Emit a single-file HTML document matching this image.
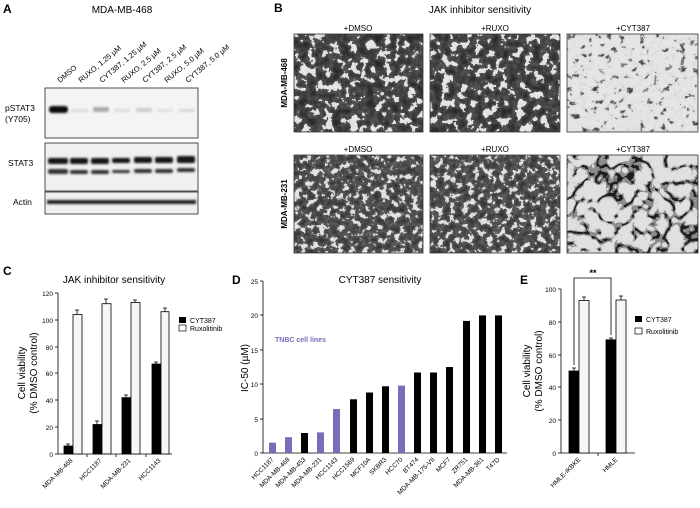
<!DOCTYPE html>
<html><head><meta charset="utf-8"><style>
html,body{margin:0;padding:0;background:#fff;}
svg{display:block;font-family:"Liberation Sans",Arial,sans-serif;}
</style></head><body>
<svg width="700" height="508" viewBox="0 0 700 508" xmlns="http://www.w3.org/2000/svg">
<defs>
<filter id="dark1" x="0" y="0" width="100%" height="100%" color-interpolation-filters="sRGB">
<feTurbulence type="fractalNoise" baseFrequency="0.12" numOctaves="3" seed="3"/>
<feColorMatrix type="matrix" values="1 0 0 0 0 1 0 0 0 0 1 0 0 0 0 0 0 0 0 1"/>
<feComponentTransfer><feFuncR type="discrete" tableValues="0.12 0.15 0.18 0.22 0.26 0.32 0.88 0.9 0.92 0.92"/><feFuncG type="discrete" tableValues="0.12 0.15 0.18 0.22 0.26 0.32 0.88 0.9 0.92 0.92"/><feFuncB type="discrete" tableValues="0.12 0.15 0.18 0.22 0.26 0.32 0.88 0.9 0.92 0.92"/></feComponentTransfer>
</filter>
<filter id="dark2" x="0" y="0" width="100%" height="100%" color-interpolation-filters="sRGB">
<feTurbulence type="fractalNoise" baseFrequency="0.16" numOctaves="3" seed="7"/>
<feColorMatrix type="matrix" values="1 0 0 0 0 1 0 0 0 0 1 0 0 0 0 0 0 0 0 1"/>
<feComponentTransfer><feFuncR type="discrete" tableValues="0.15 0.18 0.22 0.26 0.3 0.36 0.85 0.9 0.9 0.9"/><feFuncG type="discrete" tableValues="0.15 0.18 0.22 0.26 0.3 0.36 0.85 0.9 0.9 0.9"/><feFuncB type="discrete" tableValues="0.15 0.18 0.22 0.26 0.3 0.36 0.85 0.9 0.9 0.9"/></feComponentTransfer>
</filter>
<filter id="light1" x="0" y="0" width="100%" height="100%" color-interpolation-filters="sRGB">
<feTurbulence type="fractalNoise" baseFrequency="0.15" numOctaves="3" seed="11"/>
<feColorMatrix type="matrix" values="1 0 0 0 0 1 0 0 0 0 1 0 0 0 0 0 0 0 0 1"/>
<feComponentTransfer><feFuncR type="discrete" tableValues="0.2 0.25 0.3 0.5 0.86 0.88 0.9 0.9 0.9 0.9 0.9 0.9"/><feFuncG type="discrete" tableValues="0.2 0.25 0.3 0.5 0.86 0.88 0.9 0.9 0.9 0.9 0.9 0.9"/><feFuncB type="discrete" tableValues="0.2 0.25 0.3 0.5 0.86 0.88 0.9 0.9 0.9 0.9 0.9 0.9"/></feComponentTransfer>
</filter>
<filter id="light2" x="0" y="0" width="100%" height="100%" color-interpolation-filters="sRGB">
<feTurbulence type="turbulence" baseFrequency="0.06" numOctaves="2" seed="5"/>
<feColorMatrix type="matrix" values="1 0 0 0 0 1 0 0 0 0 1 0 0 0 0 0 0 0 0 1"/>
<feComponentTransfer><feFuncR type="discrete" tableValues="0.12 0.55 0.86 0.88 0.88 0.88 0.88 0.88 0.88 0.88"/><feFuncG type="discrete" tableValues="0.12 0.55 0.86 0.88 0.88 0.88 0.88 0.88 0.88 0.88"/><feFuncB type="discrete" tableValues="0.12 0.55 0.86 0.88 0.88 0.88 0.88 0.88 0.88 0.88"/></feComponentTransfer>
</filter>
<filter id="blur"><feGaussianBlur stdDeviation="1"/></filter>
</defs>

<!-- Panel A -->
<text x="3" y="13" font-size="12" font-weight="bold">A</text>
<text x="122" y="13" font-size="10" text-anchor="middle">MDA-MB-468</text>
<g font-size="7.5">
<text transform="translate(60,83) rotate(-40)">DMSO</text>
<text transform="translate(81,83) rotate(-40)">RUXO, 1.25 µM</text>
<text transform="translate(102,83) rotate(-40)">CYT387, 1.25 µM</text>
<text transform="translate(124,83) rotate(-40)">RUXO, 2.5 µM</text>
<text transform="translate(145,83) rotate(-40)">CYT387, 2.5 µM</text>
<text transform="translate(167,83) rotate(-40)">RUXO, 5.0 µM</text>
<text transform="translate(188,83) rotate(-40)">CYT387, 5.0 µM</text>
</g>
<rect x="45" y="88" width="153" height="50" fill="#f4f4f4" stroke="#222" stroke-width="0.8"/>
<rect x="45" y="143" width="153" height="48" fill="#f0f0f0" stroke="#222" stroke-width="0.8"/>
<rect x="45" y="192" width="153" height="22" fill="#f0f0f0" stroke="#222" stroke-width="0.8"/>
<g filter="url(#blur)">
<rect x="49" y="106" width="19" height="7" rx="3" fill="#111"/>
<rect x="71" y="109" width="17" height="3" fill="#ddd"/>
<rect x="93" y="107" width="16" height="5" rx="2" fill="#aaa"/>
<rect x="114" y="109" width="16" height="3" fill="#ddd"/>
<rect x="136" y="108" width="16" height="4" fill="#ccc"/>
<rect x="157" y="109" width="16" height="3" fill="#e0e0e0"/>
<rect x="179" y="109" width="16" height="3" fill="#d6d6d6"/>
<g fill="#151515">
<rect x="48" y="158" width="20" height="6" rx="2"/><rect x="70" y="158" width="18" height="6" rx="2"/><rect x="91" y="158" width="18" height="6" rx="2"/><rect x="112" y="158" width="18" height="5" rx="2"/><rect x="134" y="157" width="18" height="6" rx="2"/><rect x="155" y="157" width="18" height="6" rx="2"/><rect x="177" y="156" width="18" height="7" rx="2"/>
</g>
<g fill="#333">
<rect x="48" y="169" width="20" height="5" rx="2"/><rect x="70" y="170" width="18" height="4" rx="2"/><rect x="91" y="170" width="18" height="4" rx="2"/><rect x="112" y="170" width="18" height="3" rx="2"/><rect x="134" y="169" width="18" height="4" rx="2"/><rect x="155" y="169" width="18" height="4" rx="2"/><rect x="177" y="168" width="18" height="4" rx="2"/>
</g>
<rect x="47" y="200" width="149" height="4" fill="#222"/>
</g>
<g font-size="8.5">
<text x="5" y="111">pSTAT3</text>
<text x="5" y="122">(Y705)</text>
<text x="8" y="166">STAT3</text>
<text x="13" y="205">Actin</text>
</g>

<!-- Panel B -->
<text x="274" y="12" font-size="12" font-weight="bold">B</text>
<text x="480" y="13" font-size="10" text-anchor="middle">JAK inhibitor sensitivity</text>
<g font-size="8" text-anchor="middle">
<text x="358" y="31">+DMSO</text><text x="495" y="31">+RUXO</text><text x="633" y="31">+CYT387</text>
<text x="358" y="152">+DMSO</text><text x="495" y="152">+RUXO</text><text x="633" y="152">+CYT387</text>
<text transform="translate(287,83) rotate(-90)" font-weight="bold">MDA-MB-468</text>
<text transform="translate(287,204) rotate(-90)" font-weight="bold">MDA-MB-231</text>
</g>
<rect x="294" y="34" width="129" height="98" filter="url(#dark1)"/>
<rect x="430" y="34" width="130" height="98" filter="url(#dark1)"/>
<rect x="567" y="34" width="131" height="98" filter="url(#light1)"/>
<rect x="294" y="155" width="129" height="98" filter="url(#dark2)"/>
<rect x="430" y="155" width="130" height="98" filter="url(#dark2)"/>
<rect x="567" y="155" width="131" height="98" filter="url(#light2)"/>
<g fill="none" stroke="#333" stroke-width="0.8">
<rect x="294" y="34" width="129" height="98"/><rect x="430" y="34" width="130" height="98"/><rect x="567" y="34" width="131" height="98"/>
<rect x="294" y="155" width="129" height="98"/><rect x="430" y="155" width="130" height="98"/><rect x="567" y="155" width="131" height="98"/>
</g>

<!-- Panel C -->
<text x="3" y="275" font-size="12" font-weight="bold">C</text>
<text x="114" y="283" font-size="10" text-anchor="middle">JAK inhibitor sensitivity</text>
<g stroke="#000" stroke-width="0.8">
<line x1="58" y1="293" x2="58" y2="454"/><line x1="58" y1="454" x2="172" y2="454"/>
<line x1="55" y1="293" x2="58" y2="293"/><line x1="55" y1="320" x2="58" y2="320"/><line x1="55" y1="347" x2="58" y2="347"/><line x1="55" y1="373" x2="58" y2="373"/><line x1="55" y1="400" x2="58" y2="400"/><line x1="55" y1="427" x2="58" y2="427"/><line x1="55" y1="454" x2="58" y2="454"/>
<line x1="87" y1="454" x2="87" y2="457"/><line x1="116" y1="454" x2="116" y2="457"/><line x1="146" y1="454" x2="146" y2="457"/>
</g>
<g font-size="6.5" text-anchor="end">
<text x="53" y="296">120</text><text x="53" y="323">100</text><text x="53" y="350">80</text><text x="53" y="376">60</text><text x="53" y="403">40</text><text x="53" y="430">20</text><text x="53" y="457">0</text>
</g>
<text transform="translate(25,373) rotate(-90)" font-size="10" text-anchor="middle">Cell viability</text>
<text transform="translate(37,373) rotate(-90)" font-size="10" text-anchor="middle">(% DMSO control)</text>
<g stroke="#000" stroke-width="0.8">
<line x1="68" y1="446" x2="68" y2="444"/><line x1="66" y1="444" x2="70" y2="444"/>
<line x1="77" y1="315" x2="77" y2="310"/><line x1="75" y1="310" x2="79" y2="310"/>
<line x1="97" y1="425" x2="97" y2="421"/><line x1="95" y1="421" x2="99" y2="421"/>
<line x1="106" y1="304" x2="106" y2="299"/><line x1="104" y1="299" x2="108" y2="299"/>
<line x1="126" y1="397" x2="126" y2="395"/><line x1="124" y1="395" x2="128" y2="395"/>
<line x1="135" y1="302" x2="135" y2="300"/><line x1="133" y1="300" x2="137" y2="300"/>
<line x1="156" y1="364" x2="156" y2="362"/><line x1="154" y1="362" x2="158" y2="362"/>
<line x1="165" y1="312" x2="165" y2="308"/><line x1="163" y1="308" x2="167" y2="308"/>
<rect x="64" y="446" width="9" height="8" fill="#000"/><rect x="73" y="314.5" width="9" height="139.5" fill="#f6f6f6"/>
<rect x="93" y="424.5" width="9" height="29.5" fill="#000"/><rect x="102" y="303.7" width="9" height="150.3" fill="#f6f6f6"/>
<rect x="122" y="397.6" width="9" height="56.4" fill="#000"/><rect x="131" y="302.4" width="9" height="151.6" fill="#f6f6f6"/>
<rect x="152" y="364" width="9" height="90" fill="#000"/><rect x="161" y="311.7" width="8" height="142.3" fill="#f6f6f6"/>
</g>
<rect x="179" y="317" width="7" height="6" fill="#000"/>
<rect x="179" y="325" width="7" height="6" fill="#fff" stroke="#000" stroke-width="0.7"/>
<text x="190" y="323" font-size="7">CYT387</text>
<text x="190" y="331" font-size="7">Ruxolitinib</text>
<g font-size="6.5" text-anchor="end">
<text transform="translate(73,461) rotate(-45)">MDA-MB-468</text>
<text transform="translate(102,461) rotate(-45)">HCC1187</text>
<text transform="translate(131,461) rotate(-45)">MDA-MB-231</text>
<text transform="translate(161,461) rotate(-45)">HCC1143</text>
</g>

<!-- Panel D -->
<text x="232" y="284" font-size="12" font-weight="bold">D</text>
<text x="380" y="283" font-size="10" text-anchor="middle">CYT387 sensitivity</text>
<g stroke="#000" stroke-width="0.8">
<line x1="263" y1="281" x2="263" y2="453"/><line x1="263" y1="453" x2="507" y2="453"/>
<line x1="260" y1="281" x2="263" y2="281"/><line x1="260" y1="315" x2="263" y2="315"/><line x1="260" y1="350" x2="263" y2="350"/><line x1="260" y1="384" x2="263" y2="384"/><line x1="260" y1="419" x2="263" y2="419"/><line x1="260" y1="453" x2="263" y2="453"/>
</g>
<g font-size="6.5" text-anchor="end">
<text x="258" y="284">25</text><text x="258" y="318">20</text><text x="258" y="353">15</text><text x="258" y="387">10</text><text x="258" y="422">5</text><text x="258" y="456">0</text>
</g>
<text transform="translate(248,368) rotate(-90)" font-size="10" text-anchor="middle">IC-50 (µM)</text>
<text x="275" y="342" font-size="7" font-weight="bold" fill="#7a6cb8">TNBC cell lines</text>
<g>
<rect x="269" y="442.7" width="7" height="10.3" fill="#7a6cb8"/>
<rect x="285" y="437.2" width="7" height="15.8" fill="#7a6cb8"/>
<rect x="301" y="433" width="7" height="20" fill="#000"/>
<rect x="317" y="432.4" width="7" height="20.6" fill="#7a6cb8"/>
<rect x="333" y="409" width="7" height="44" fill="#7a6cb8"/>
<rect x="350" y="399.3" width="7" height="53.7" fill="#000"/>
<rect x="366" y="392.5" width="7" height="60.5" fill="#000"/>
<rect x="382" y="386.3" width="7" height="66.7" fill="#000"/>
<rect x="398" y="385.6" width="7" height="67.4" fill="#7a6cb8"/>
<rect x="414" y="372.5" width="7" height="80.5" fill="#000"/>
<rect x="430" y="372.5" width="7" height="80.5" fill="#000"/>
<rect x="446" y="367" width="7" height="86" fill="#000"/>
<rect x="463" y="320.9" width="7" height="132.1" fill="#000"/>
<rect x="479" y="315.4" width="7" height="137.6" fill="#000"/>
<rect x="495" y="315.4" width="7" height="137.6" fill="#000"/>
</g>
<g font-size="6.5" text-anchor="end">
<text transform="translate(274,460) rotate(-45)">HCC1187</text>
<text transform="translate(290,460) rotate(-45)">MDA-MB-468</text>
<text transform="translate(306,460) rotate(-45)">MDA-MB-453</text>
<text transform="translate(322,460) rotate(-45)">MDA-MB-231</text>
<text transform="translate(338,460) rotate(-45)">HCC1143</text>
<text transform="translate(355,460) rotate(-45)">HCC1569</text>
<text transform="translate(371,460) rotate(-45)">MCF10A</text>
<text transform="translate(387,460) rotate(-45)">SKBR3</text>
<text transform="translate(403,460) rotate(-45)">HCC70</text>
<text transform="translate(419,460) rotate(-45)">BT474</text>
<text transform="translate(435,460) rotate(-45)">MDA-MB-175-VII</text>
<text transform="translate(451,460) rotate(-45)">MCF7</text>
<text transform="translate(468,460) rotate(-45)">ZR751</text>
<text transform="translate(484,460) rotate(-45)">MDA-MB-361</text>
<text transform="translate(500,460) rotate(-45)">T47D</text>
</g>

<!-- Panel E -->
<text x="520" y="284" font-size="12" font-weight="bold">E</text>
<text transform="translate(530,371) rotate(-90)" font-size="10" text-anchor="middle">Cell viability</text>
<text transform="translate(542,371) rotate(-90)" font-size="10" text-anchor="middle">(% DMSO control)</text>
<g stroke="#000" stroke-width="0.8">
<line x1="561" y1="289" x2="561" y2="453"/><line x1="561" y1="453" x2="635" y2="453"/>
<line x1="558" y1="289" x2="561" y2="289"/><line x1="558" y1="322" x2="561" y2="322"/><line x1="558" y1="355" x2="561" y2="355"/><line x1="558" y1="387" x2="561" y2="387"/><line x1="558" y1="420" x2="561" y2="420"/><line x1="558" y1="453" x2="561" y2="453"/>
<line x1="598" y1="453" x2="598" y2="456"/>
<line x1="584" y1="301" x2="584" y2="297"/><line x1="582" y1="297" x2="586" y2="297"/>
<line x1="621" y1="300" x2="621" y2="296"/><line x1="619" y1="296" x2="623" y2="296"/>
<line x1="574" y1="371" x2="574" y2="368"/><line x1="572" y1="368" x2="576" y2="368"/>
<line x1="611" y1="340" x2="611" y2="338"/><line x1="609" y1="338" x2="613" y2="338"/>
<rect x="569" y="371" width="10" height="82" fill="#000"/><rect x="579" y="300.5" width="10" height="152.5" fill="#f6f6f6"/>
<rect x="606" y="339.8" width="10" height="113.2" fill="#000"/><rect x="616" y="300" width="10" height="153" fill="#f6f6f6"/>
<polyline points="574,365 574,278 611,278 611,335" fill="none"/>
</g>
<text x="593" y="276" font-size="9" text-anchor="middle" font-weight="bold">**</text>
<g font-size="6.5" text-anchor="end">
<text x="556" y="292">100</text><text x="556" y="325">80</text><text x="556" y="358">60</text><text x="556" y="390">40</text><text x="556" y="423">20</text><text x="556" y="456">0</text>
</g>
<rect x="635" y="316" width="7" height="6" fill="#000"/>
<rect x="635" y="328" width="7" height="6" fill="#fff" stroke="#000" stroke-width="0.7"/>
<text x="646" y="322" font-size="7">CYT387</text>
<text x="646" y="334" font-size="7">Ruxolitinib</text>
<g font-size="6.5" text-anchor="end">
<text transform="translate(581,460) rotate(-45)">HMLE-IKBKE</text>
<text transform="translate(618,460) rotate(-45)">HMLE</text>
</g>
</svg>
</body></html>
